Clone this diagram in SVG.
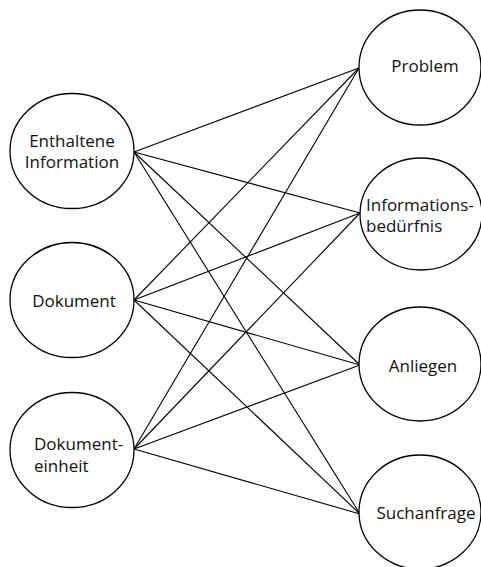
<svg xmlns="http://www.w3.org/2000/svg" width="481" height="567" viewBox="0 0 481 567">
<style>
.n{fill:#fff;stroke:#000;stroke-width:1.3}
.e line{stroke:#000;stroke-width:1.1}
text{font-family:"Open Sans","Liberation Sans",sans-serif;font-size:17px;fill:#111}
.m{text-anchor:middle}
</style>
<rect width="481" height="567" fill="#fff"/>
<g class="e" id="connectors">
<line x1="134" y1="152" x2="359" y2="68"/>
<line x1="134" y1="152" x2="360" y2="213"/>
<line x1="134" y1="152" x2="360" y2="365"/>
<line x1="134" y1="152" x2="360" y2="514"/>
<line x1="134" y1="300" x2="359" y2="68"/>
<line x1="134" y1="300" x2="360" y2="213"/>
<line x1="134" y1="300" x2="360" y2="365"/>
<line x1="134" y1="300" x2="360" y2="514"/>
<line x1="134" y1="449" x2="359" y2="68"/>
<line x1="134" y1="449" x2="360" y2="213"/>
<line x1="134" y1="449" x2="360" y2="365"/>
<line x1="134" y1="449" x2="360" y2="514"/>
</g>
<g id="enthaltene">
<ellipse class="n" cx="72" cy="151" rx="62" ry="57.5"/>
<text x="72" y="147" class="m">Enthaltene</text>
<text x="72" y="168" class="m">Information</text>
</g>
<g id="dokument">
<ellipse class="n" cx="72" cy="300" rx="62" ry="57.5"/>
<text x="74" y="307" class="m">Dokument</text>
</g>
<g id="dokumenteinheit">
<ellipse class="n" cx="72" cy="450" rx="62" ry="57.5"/>
<text x="34" y="450">Dokument-</text>
<text x="34" y="472">einheit</text>
</g>
<g id="problem">
<ellipse class="n" cx="420" cy="67.5" rx="61" ry="57.5"/>
<text x="425" y="72" class="m">Problem</text>
</g>
<g id="informationsbeduerfnis">
<ellipse class="n" cx="421" cy="214" rx="61" ry="56"/>
<text x="366" y="211">Informations-</text>
<text x="366" y="232">bedürfnis</text>
</g>
<g id="anliegen">
<ellipse class="n" cx="420" cy="364" rx="61" ry="57"/>
<text x="423" y="372" class="m">Anliegen</text>
</g>
<g id="suchanfrage">
<ellipse class="n" cx="420" cy="512" rx="61" ry="57"/>
<text x="426" y="519" class="m">Suchanfrage</text>
</g>
</svg>
